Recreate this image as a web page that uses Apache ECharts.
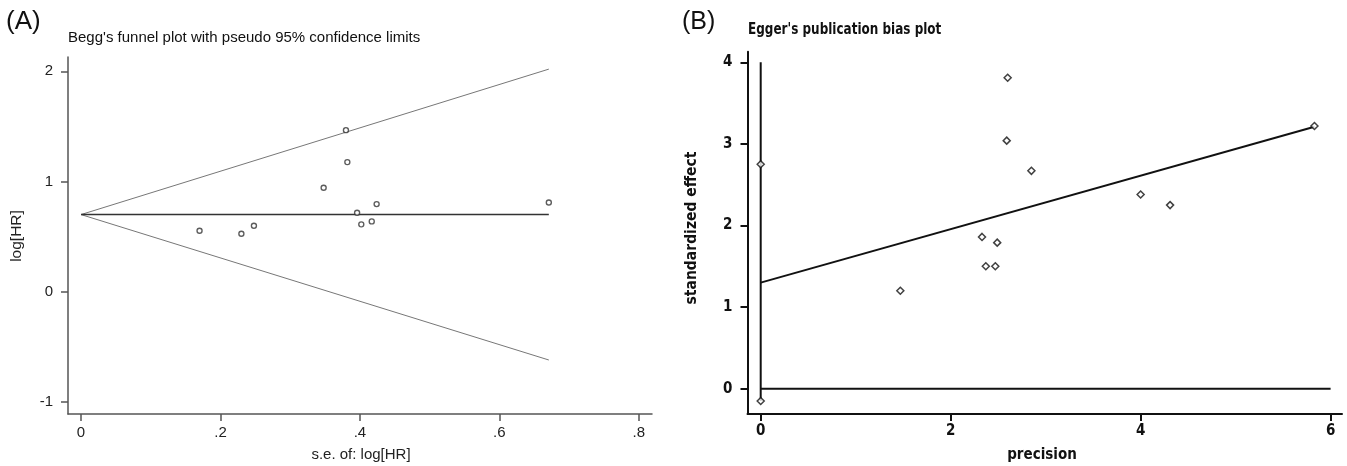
<!DOCTYPE html>
<html>
<head>
<meta charset="utf-8">
<script src="https://cdn.jsdelivr.net/npm/echarts@6/dist/echarts.min.js"></script>
<style>
html,body{margin:0;padding:0;background:#fff;}
#chart{width:1347px;height:466px;}
</style>
</head>
<body>
<div id="chart"></div>
<script>
// ---- Panel A: Begg's funnel plot ----
const seA = [0.170, 0.230, 0.248, 0.348, 0.380, 0.382, 0.396, 0.402, 0.417, 0.424, 0.671];
const logHR = [0.553, 0.526, 0.598, 0.943, 1.466, 1.176, 0.716, 0.611, 0.638, 0.795, 0.810];
const funnelSe = [0, 0.671];
const funnelUpper = [0.70, 2.02];
const funnelLower = [0.70, -0.62];
const funnelMid = [0.70, 0.70];
const aXTicks = [0, 0.2, 0.4, 0.6, 0.8];
const aYTicks = [-1, 0, 1, 2];

// ---- Panel B: Egger's publication bias plot ----
const precision = [2.60, 2.59, 2.85, 2.33, 2.49, 2.37, 2.47, 1.47, 4.00, 4.31, 5.83];
const stdEffect = [3.81, 3.04, 2.67, 1.86, 1.79, 1.50, 1.50, 1.20, 2.38, 2.25, 3.22];
const interceptX = [0, 0];
const interceptY = [2.75, -0.15];
const ciLineX = [0, 0];
const ciLineY = [-0.15, 4.0];
const regX = [0, 5.83];
const regY = [1.30, 3.21];
const zeroX = [0, 6];
const zeroY = [0, 0];
const bXTicks = [0, 2, 4, 6];
const bYTicks = [0, 1, 2, 3, 4];

const pairs = (xs, ys) => xs.map((x, i) => [x, ys[i]]);
const REG = "'Liberation Sans', Arial, sans-serif";
const NARROW = "'Liberation Sans Narrow', 'DejaVu Sans Condensed', 'Liberation Sans', sans-serif";
const fmtA = v => v === 0 ? '0' : String(+v.toFixed(2)).replace(/^0\./, '.').replace(/^-0\./, '-.');

const chart = echarts.init(document.getElementById('chart'), null, {renderer: 'canvas'});

const axA = {color: '#555', width: 1.5};
const axB = {color: '#111', width: 2};

const option = {
  backgroundColor: '#fff',
  animation: false,
  grid: [
    {left: 68, top: 57, width: 584, height: 357},
    {left: 747.5, top: 51.7, width: 594.5, height: 362.3}
  ],
  xAxis: [
    {
      gridIndex: 0, type: 'value', min: -0.0187, max: 0.819,
      axisLine: {show: true, onZero: false, lineStyle: axA},
      axisTick: {show: true, length: 7, lineStyle: axA, customValues: aXTicks},
      axisLabel: {customValues: aXTicks, formatter: fmtA, color: '#222', fontSize: 15, fontFamily: REG, margin: 11},
      splitLine: {show: false}
    },
    {
      gridIndex: 1, type: 'value', min: -0.139, max: 6.12,
      axisLine: {show: true, onZero: false, lineStyle: axB},
      axisTick: {show: true, length: 7, lineStyle: axB, customValues: bXTicks},
      axisLabel: {customValues: bXTicks, color: '#111', fontSize: 15, fontWeight: 'bold', fontFamily: NARROW, margin: 10},
      splitLine: {show: false}
    }
  ],
  yAxis: [
    {
      gridIndex: 0, type: 'value', min: -1.11, max: 2.13,
      axisLine: {show: true, onZero: false, lineStyle: axA},
      axisTick: {show: true, length: 7, lineStyle: axA, customValues: aYTicks},
      axisLabel: {customValues: aYTicks, formatter: fmtA, color: '#222', fontSize: 15, fontFamily: REG, margin: 15},
      splitLine: {show: false}
    },
    {
      gridIndex: 1, type: 'value', min: -0.31, max: 4.13,
      axisLine: {show: true, onZero: false, lineStyle: axB},
      axisTick: {show: true, length: 7, lineStyle: axB, customValues: bYTicks},
      axisLabel: {customValues: bYTicks, color: '#111', fontSize: 15, fontWeight: 'bold', fontFamily: NARROW, margin: 15},
      splitLine: {show: false}
    }
  ],
  graphic: [
    {type: 'text', x: 6, y: 22, style: {text: '(A)', fontSize: 26, fontFamily: REG, fill: '#111', align: 'left', verticalAlign: 'middle'}},
    {type: 'text', x: 68, y: 38, style: {text: "Begg's funnel plot with pseudo 95% confidence limits", fontSize: 15, fontFamily: REG, fill: '#111', align: 'left', verticalAlign: 'middle'}},
    {type: 'text', x: 17, y: 236, rotation: Math.PI / 2, style: {text: 'log[HR]', fontSize: 15.5, fontFamily: REG, fill: '#222', align: 'center', verticalAlign: 'middle'}},
    {type: 'text', x: 361, y: 455, style: {text: 's.e. of: log[HR]', fontSize: 15, fontFamily: REG, fill: '#222', align: 'center', verticalAlign: 'middle'}},
    {type: 'text', x: 682, y: 22, style: {text: '(B)', fontSize: 25, fontFamily: REG, fill: '#111', align: 'left', verticalAlign: 'middle'}},
    {type: 'text', x: 748, y: 30, scaleX: 0.89, style: {text: "Egger's publication bias plot", fontSize: 15, fontWeight: 'bold', fontFamily: NARROW, fill: '#111', align: 'left', verticalAlign: 'middle'}},
    {type: 'text', x: 692, y: 228, rotation: Math.PI / 2, style: {text: 'standardized effect', fontSize: 15.5, fontWeight: 'bold', fontFamily: NARROW, fill: '#111', align: 'center', verticalAlign: 'middle'}},
    {type: 'text', x: 1042, y: 455, style: {text: 'precision', fontSize: 15, fontWeight: 'bold', fontFamily: NARROW, fill: '#111', align: 'center', verticalAlign: 'middle'}}
  ],
  series: [
    {type: 'line', xAxisIndex: 0, yAxisIndex: 0, data: pairs(funnelSe, funnelUpper), symbol: 'none', lineStyle: {color: '#777', width: 1}, z: 2},
    {type: 'line', xAxisIndex: 0, yAxisIndex: 0, data: pairs(funnelSe, funnelLower), symbol: 'none', lineStyle: {color: '#777', width: 1}, z: 2},
    {type: 'line', xAxisIndex: 0, yAxisIndex: 0, data: pairs(funnelSe, funnelMid), symbol: 'none', lineStyle: {color: '#333', width: 1.5}, z: 2},
    {type: 'scatter', xAxisIndex: 0, yAxisIndex: 0, data: pairs(seA, logHR), symbol: 'circle', symbolSize: 5,
      itemStyle: {color: '#fff', borderColor: '#333', borderWidth: 1.4}, z: 3},

    {type: 'line', xAxisIndex: 1, yAxisIndex: 1, data: pairs(ciLineX, ciLineY), symbol: 'none', lineStyle: {color: '#111', width: 2}, z: 2},
    {type: 'line', xAxisIndex: 1, yAxisIndex: 1, data: pairs(zeroX, zeroY), symbol: 'none', lineStyle: {color: '#111', width: 2}, z: 2},
    {type: 'line', xAxisIndex: 1, yAxisIndex: 1, data: pairs(regX, regY), symbol: 'none', lineStyle: {color: '#111', width: 2}, z: 2},
    {type: 'scatter', xAxisIndex: 1, yAxisIndex: 1, data: pairs(interceptX, interceptY), symbol: 'diamond', symbolSize: 7,
      itemStyle: {color: '#fff', borderColor: '#111', borderWidth: 1.5}, z: 3},
    {type: 'scatter', xAxisIndex: 1, yAxisIndex: 1, data: pairs(precision, stdEffect), symbol: 'diamond', symbolSize: 7,
      itemStyle: {color: '#fff', borderColor: '#111', borderWidth: 1.5}, z: 3}
  ]
};
chart.setOption(option);
</script>
</body>
</html>
